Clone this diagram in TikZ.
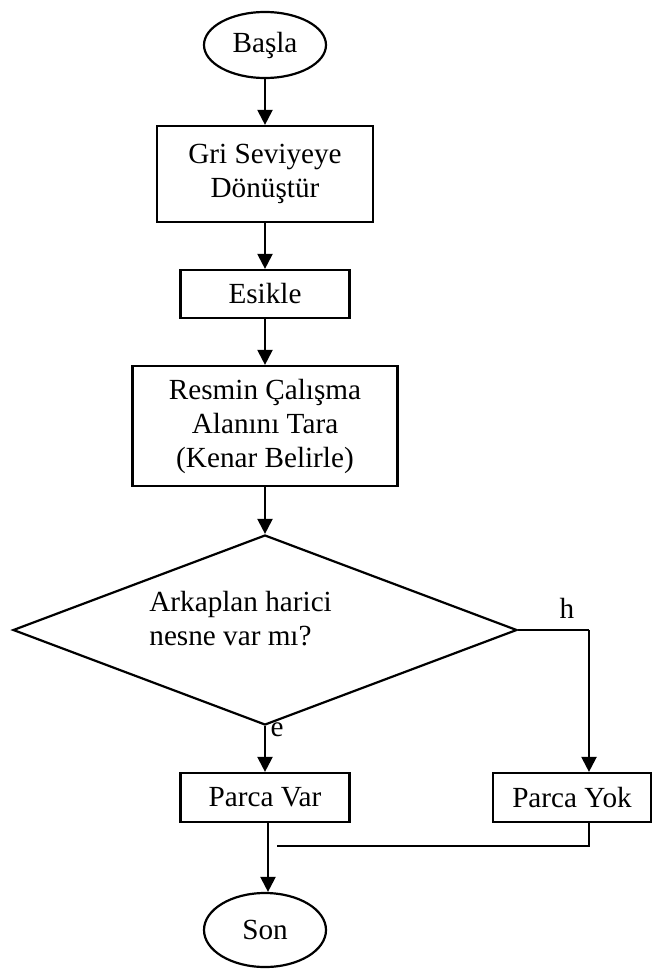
\documentclass[tikz,border=0pt]{standalone}
\usepackage{fontspec}
\setmainfont{Liberation Serif}
\usetikzlibrary{shapes.geometric,arrows.meta}
\begin{document}
\begin{tikzpicture}[x=0.5pt,y=-0.5pt,
  every node/.style={font=\fontsize{14.6pt}{17pt}\selectfont},
  line/.style={line width=1.1pt},
  arr/.style={line, -{Triangle[length=7.5pt,width=7.5pt]}},
  terminal/.style={draw, line width=1.1pt, ellipse, inner sep=0pt, minimum width=61pt},
  procbox/.style={draw, line width=1.1pt, rectangle, inner sep=0pt, align=center},
  decision/.style={draw, line width=1.1pt, diamond, inner sep=0pt, minimum width=252pt, minimum height=95pt},
  lbl/.style={inner sep=0pt}]
  \useasboundingbox (0,0) rectangle (653,969);

  % main flow
  \node[terminal, minimum height=33pt] (start) at (265,45) {Başla};
  \node[procbox, minimum width=108pt, minimum height=48pt] (gri) at (265,174) {Gri Seviyeye\\Dönüştür};
  \node[procbox, minimum width=84.5pt, minimum height=24pt] (esik) at (265,294) {Esikle};
  \node[procbox, minimum width=132.5pt, minimum height=60pt] (resmin) at (265,426) {Resmin Çalışma\\Alanını Tara\\(Kenar Belirle)};
  \node[decision] (karar) at (265,630) {};
  \node[lbl, anchor=west, align=left] (soru) at (149,619) {Arkaplan harici\\nesne var mı?};

  % branches
  \node[procbox, minimum width=84.5pt, minimum height=24.5pt] (var) at (265,797.5) {Parca Var};
  \node[procbox, minimum width=79pt, minimum height=24.5pt] (yok) at (572,797.5) {Parca Yok};
  \node[terminal, minimum height=37pt] (son) at (265,930) {Son};

  \node[lbl] (hlbl) at (567,608) {h};
  \node[lbl] (elbl) at (277,730) {e};

  \coordinate (hturn) at (589,630);
  \coordinate (joinend) at (277,846);

  % connectors
  \draw[arr] (start) -- (gri);
  \draw[arr] (gri) -- (esik);
  \draw[arr] (esik) -- (resmin);
  \draw[arr] (resmin) -- (karar.north);
  \draw[line] (karar.east) -- (hturn);
  \draw[arr] (hturn) -- (hturn |- yok.north);
  \draw[arr] (karar.south) -- (var.north);
  \draw[arr] ([xshift=1.5pt]var.south) -- ([xshift=1.5pt]son.north);
  \draw[line] (hturn |- yok.south) |- (joinend);
\end{tikzpicture}
\end{document}
